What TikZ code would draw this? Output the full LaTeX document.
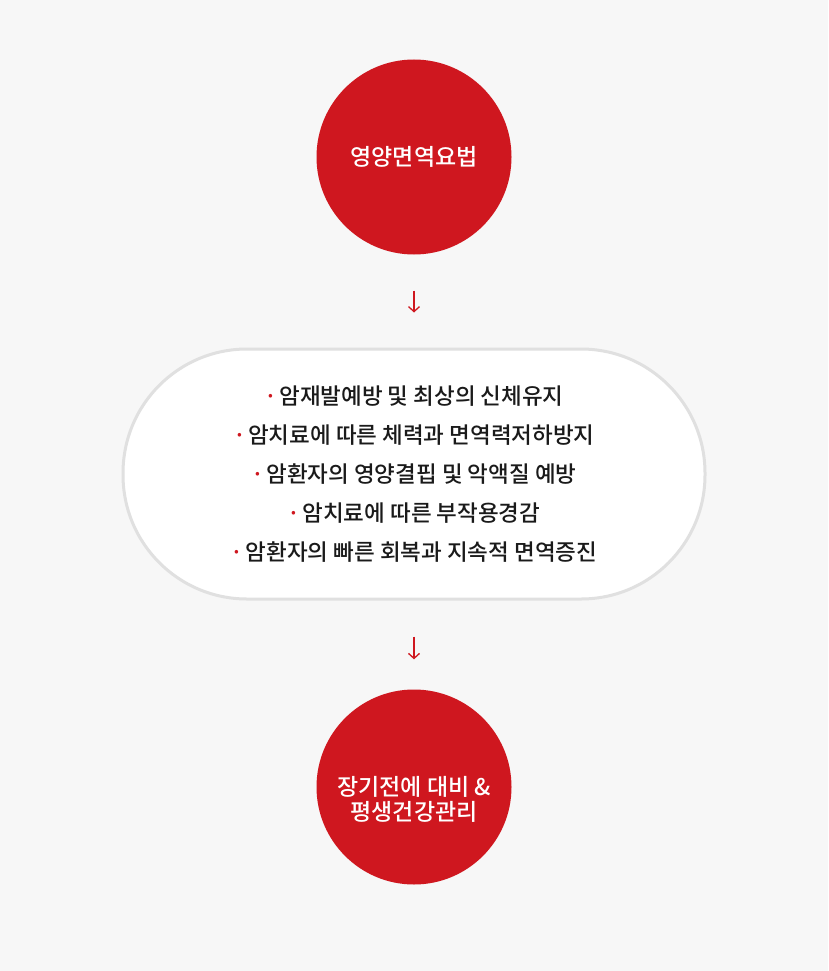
\documentclass[tikz,border=0pt]{standalone}
\usepackage{fontspec}
\setmainfont{Noto Sans CJK KR Medium}
\usetikzlibrary{arrows.meta}
\definecolor{bgc}{HTML}{F7F7F7}
\definecolor{redc}{HTML}{CF171F}
\definecolor{pillc}{HTML}{E0E0E0}
\definecolor{txtc}{HTML}{1A1A1A}
\newcommand{\bul}{{\color{redc}·}\hspace{2pt}}
\tikzset{
  redcircle/.style={circle, fill=redc, minimum size=195pt, inner sep=0pt, text=white, align=center},
  pillbox/.style={rectangle, rounded corners=124pt, fill=white, draw=pillc, line width=3pt, minimum width=582pt, minimum height=250pt, align=center, text=txtc},
  arr/.style={draw=redc, line width=1.3pt, -{Straight Barb[length=5pt,width=11pt]}}
}
\begin{document}
\begin{tikzpicture}[x=1pt,y=1pt]
\fill[bgc] (0,0) rectangle (828,-971);
\useasboundingbox (0,0) rectangle (828,-971);
\node[redcircle, font=\fontsize{23}{28}\selectfont] (top) at (414,-157) {영양면역요법};
\node[pillbox, font=\fontsize{22.5}{38.8}\selectfont] (pill) at (414,-474) {\bul 암재발예방 및 최상의 신체유지\\ \bul 암치료에 따른 체력과 면역력저하방지\\ \bul 암환자의 영양결핍 및 악액질 예방\\ \bul 암치료에 따른 부작용경감\\ \bul 암환자의 빠른 회복과 지속적 면역증진};
\node[redcircle, font=\fontsize{23}{24.5}\selectfont, text depth=0pt] (bot) at (414,-787) {\raisebox{-8pt}{\parbox{190pt}{\centering 장기전에 대비 \&\\ 평생건강관리}}};
\draw[arr, shorten <=36pt, shorten >=35pt] (top) -- (pill);
\draw[arr, shorten <=36pt, shorten >=30pt] (pill) -- (bot);
\end{tikzpicture}
\end{document}
